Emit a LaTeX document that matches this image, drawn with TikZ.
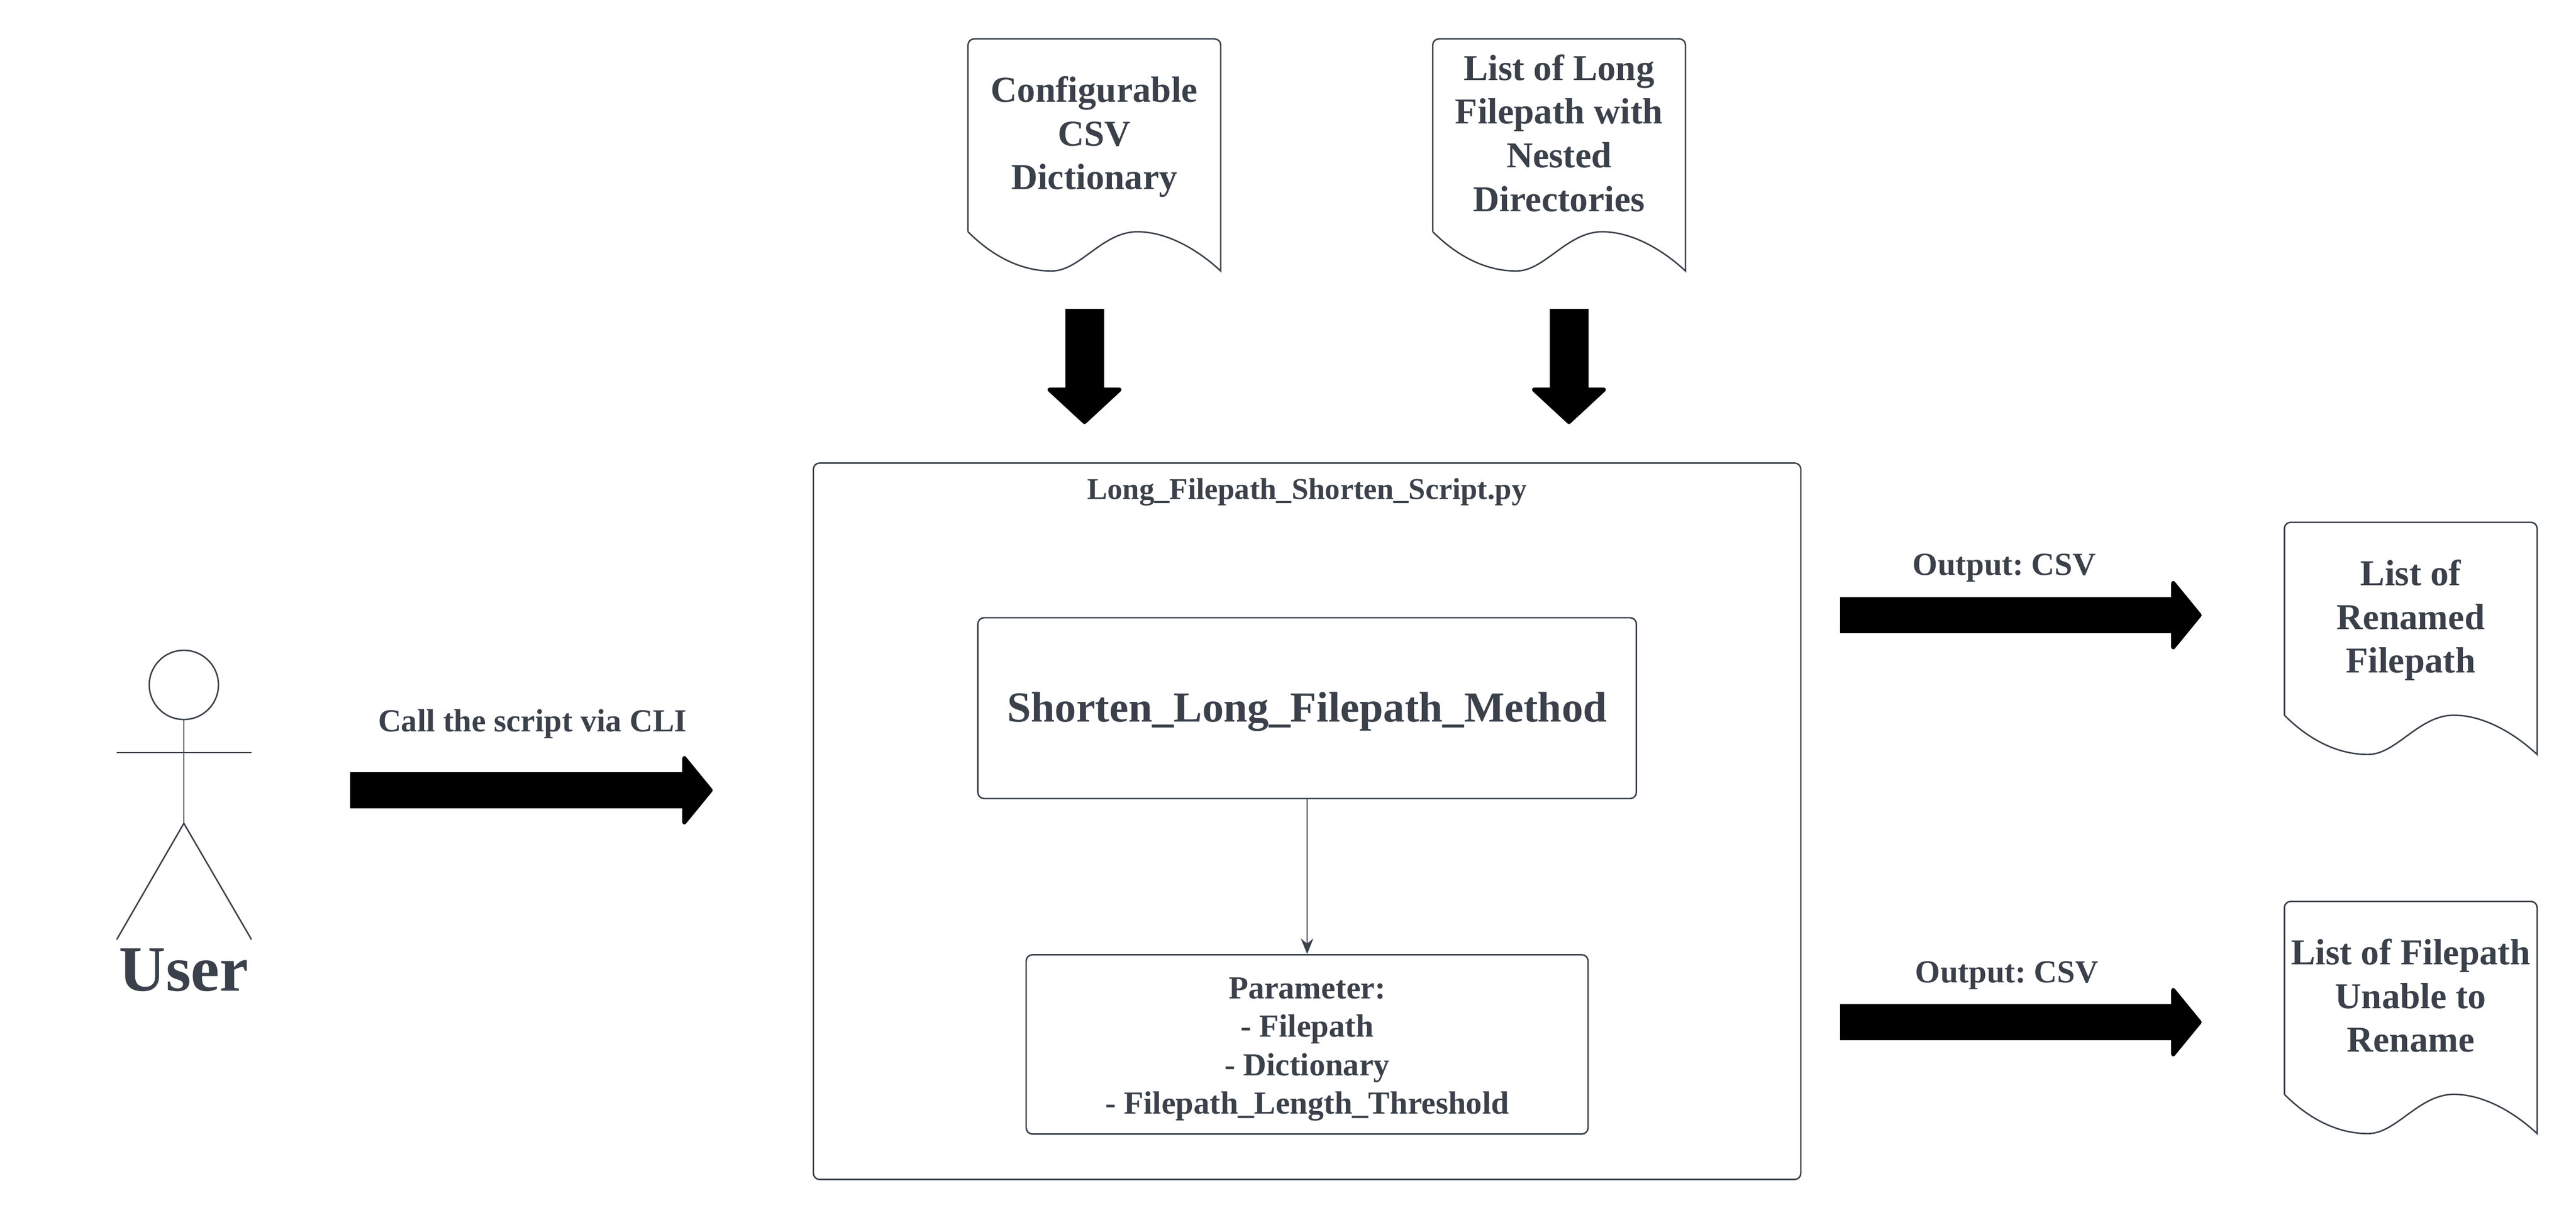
\documentclass[tikz,border=0pt]{standalone}
\usepackage{fontspec}
\setmainfont{Liberation Serif}
\usetikzlibrary{arrows.meta}
\definecolor{inkgray}{HTML}{3A414A}
\newcommand{\lowstrut}{\rule[-5.4pt]{0pt}{1pt}}
\tikzset{
    boxnode/.style={draw=inkgray, line width=0.8pt, rounded corners=0.12cm, text=inkgray, align=center, inner sep=0pt},
    docnode/.style={minimum width=4.88cm, minimum height=3.72cm, text=inkgray, align=center, inner sep=0pt, font=\fontsize{20.1}{24.1}\selectfont\bfseries},
    labelnode/.style={text=inkgray, inner sep=0pt, font=\fontsize{#1}{#1}\selectfont\bfseries},
    thinline/.style={draw=inkgray, line width=0.8pt},
    fatright/.style={line width=0.7cm, -{Triangle[round, line width=0.08cm, length=0.6cm, width=1.45cm]}},
    fatdown/.style={line width=0.75cm, -{Triangle[round, line width=0.08cm, length=0.72cm, width=1.54cm]}}
}
% outline of a document shape, wave below the node
\newcommand{\docoutline}[1]{
    \draw[thinline] (#1.south west) [rounded corners=0.12cm] -- (#1.north west) -- (#1.north east) [sharp corners] -- ([yshift=-0.76cm]#1.south east)
        .. controls +(-0.45,0.42) and +(0.57,0) .. ([xshift=3.28cm]#1.south west)
        .. controls +(-0.68,0) and +(0.55,0) .. ([xshift=1.62cm,yshift=-0.76cm]#1.south west)
        .. controls +(-0.65,0) and +(0.42,-0.42) .. (#1.south west);
}
\begin{document}
\begin{tikzpicture}[>={Stealth[length=0.3cm, width=0.24cm]}]
    \useasboundingbox (0,0) rectangle (49.88,-23.61);

    % Stick figure on the left
    \node[thinline, draw, circle, minimum size=1.34cm, inner sep=0pt] (userhead) at (3.56,-13.26) {};
    \coordinate (hip) at (3.56,-15.94);
    \coordinate (armL) at (2.26,-14.57);
    \coordinate (armR) at (4.87,-14.57);
    \coordinate (footL) at (2.26,-18.19);
    \coordinate (footR) at (4.87,-18.19);
    \node[labelnode=35.6] (user) at (3.56,-18.78) {User};
    \draw[thinline] (userhead.south) -- (hip);
    \draw[thinline] (armL) -- (armR);
    \draw[thinline] (hip) -- (footL);
    \draw[thinline] (hip) -- (footR);

    % Script box and the two boxes inside it
    \node[boxnode, minimum width=19.12cm, minimum height=13.87cm] (script) at (25.31,-15.9) {};
    \node[labelnode=16.6] (scriptname) at (25.31,-9.53) {Long\_Filepath\_Shorten\_Script.py};
    \node[boxnode, minimum width=12.75cm, minimum height=3.5cm, font=\fontsize{23.6}{28.3}\selectfont\bfseries] (method) at (25.31,-13.71) {\rule{0pt}{20pt}Shorten\_Long\_Filepath\_Method};
    \node[boxnode, minimum width=10.88cm, minimum height=3.47cm, font=\fontsize{17.7}{21.1}\selectfont\bfseries] (param) at (25.31,-20.22) {\rule{0pt}{17pt}Parameter:\\- Filepath\\- Dictionary\\- Filepath\_Length\_Threshold};
    \draw[->, thinline] (method) -- (param);

    % Input documents on top
    \node[docnode] (dictdoc) at (21.19,-2.62) {\strut Configurable\\CSV\\Dictionary\lowstrut};
    \node[docnode] (listdoc) at (30.19,-2.62) {\strut List of Long\\Filepath with\\Nested\\Directories\lowstrut};
    \docoutline{dictdoc}
    \docoutline{listdoc}

    % Output documents on the right
    \node[docnode] (renameddoc) at (46.68,-11.98) {\strut List of\\Renamed\\Filepath\lowstrut};
    \node[docnode] (faileddoc) at (46.68,-19.32) {\strut List of Filepath\\Unable to\\Rename\lowstrut};
    \docoutline{renameddoc}
    \docoutline{faileddoc}

    % Thick arrows
    \coordinate (dictfrom) at (21.0,-5.98);
    \coordinate (dictto) at (21.0,-8.21);
    \coordinate (listfrom) at (30.38,-5.98);
    \coordinate (listto) at (30.38,-8.21);
    \coordinate (callfrom) at (6.78,-15.3);
    \coordinate (callto) at (13.8,-15.3);
    \coordinate (renamedfrom) at (35.63,-11.91);
    \coordinate (renamedto) at (42.63,-11.91);
    \coordinate (failedfrom) at (35.63,-19.79);
    \coordinate (failedto) at (42.63,-19.79);
    \draw[fatdown] (dictfrom) -- (dictto);
    \draw[fatdown] (listfrom) -- (listto);
    \draw[fatright] (callfrom) -- (callto);
    \draw[fatright] (renamedfrom) -- (renamedto);
    \draw[fatright] (failedfrom) -- (failedto);

    % Labels over the thick arrows
    \node[labelnode=17.7] (calllabel) at (10.31,-14.02) {Call the script via CLI};
    \node[labelnode=17.7] (renamedlabel) at (38.81,-11.0) {Output:\ CSV};
    \node[labelnode=17.7] (failedlabel) at (38.86,-18.89) {Output:\ CSV};
\end{tikzpicture}
\end{document}
